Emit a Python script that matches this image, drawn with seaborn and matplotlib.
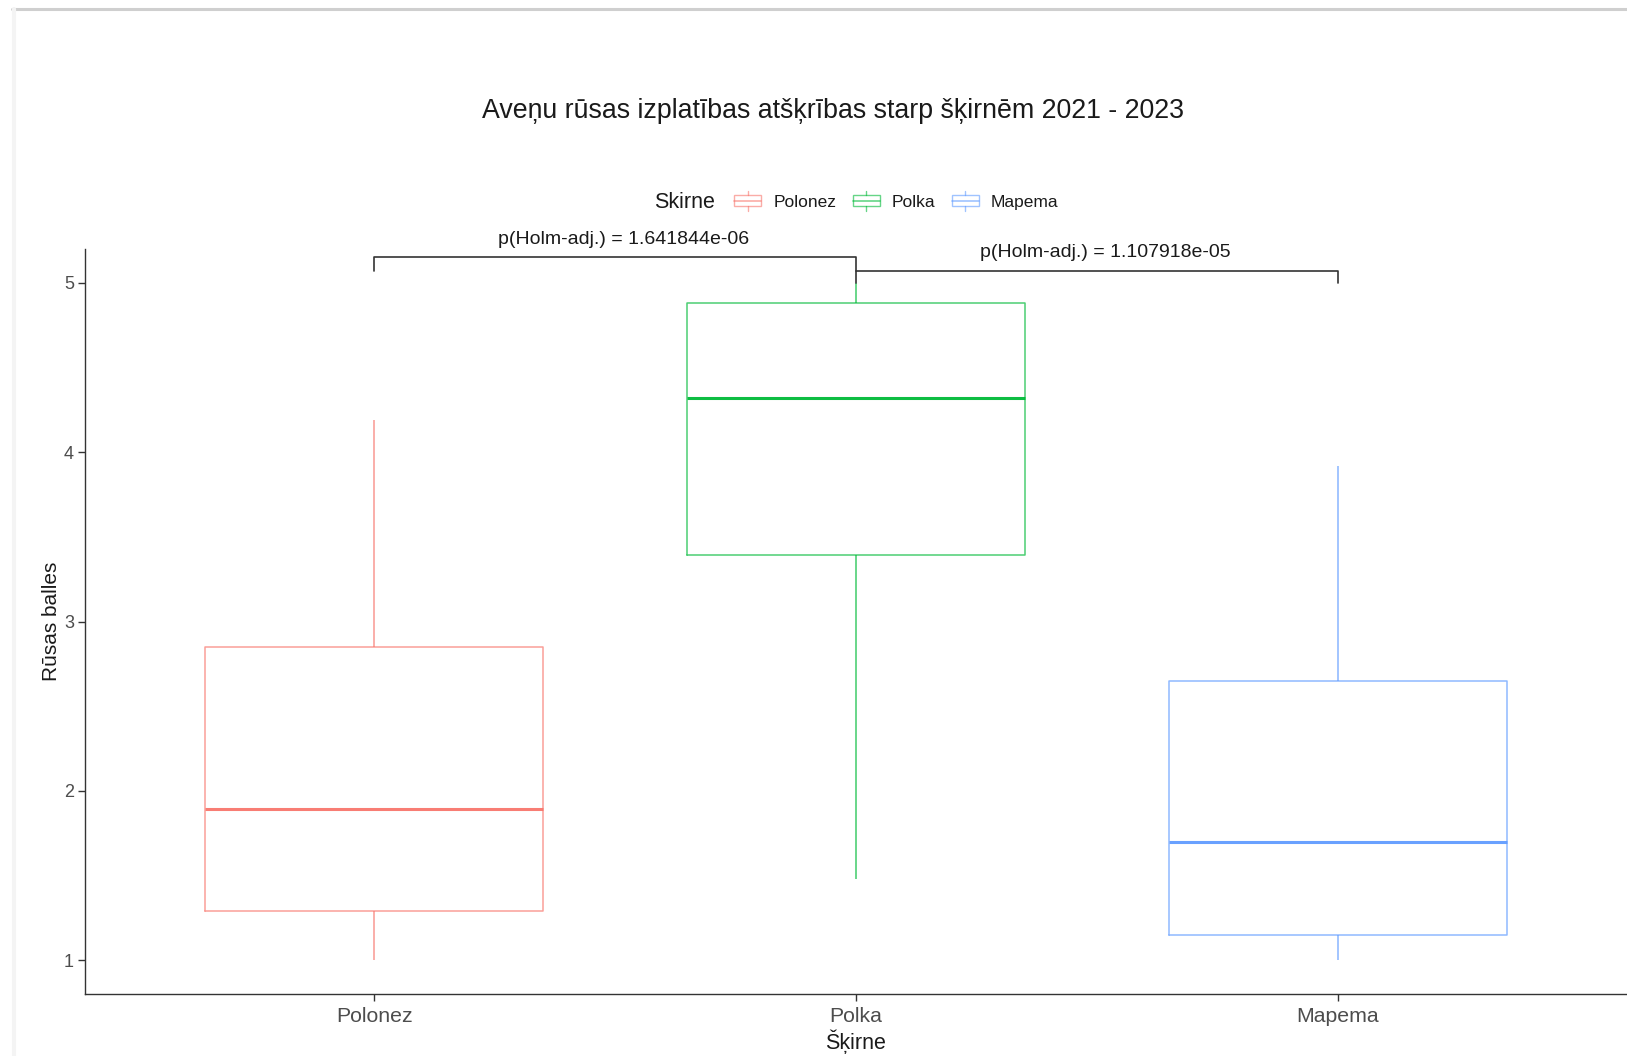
import numpy as np
import pandas as pd
import matplotlib
matplotlib.use("Agg")
import matplotlib.pyplot as plt
from matplotlib.patches import Patch, Rectangle
from matplotlib.lines import Line2D
from matplotlib.legend_handler import HandlerBase
import seaborn as sns

# Five-number summaries of rust scores per raspberry variety
varieties = ["Polonez", "Polka", "Mapema"]
whisker_low = [1.00, 1.48, 1.00]
q1 = [1.29, 3.39, 1.15]
median = [1.89, 4.32, 1.70]
q3 = [2.85, 4.88, 2.65]
whisker_high = [4.19, 5.00, 3.92]

# Pairwise comparisons (Holm-adjusted p-values)
comparisons = [("Polonez", "Polka"), ("Polka", "Mapema")]
p_labels = ["p(Holm-adj.) = 1.641844e-06", "p(Holm-adj.) = 1.107918e-05"]
bracket_y = [5.153, 5.073]
tip_length = [0.08, 0.073]

colors = ["#F8766D", "#00BA38", "#619CFF"]
palette = dict(zip(varieties, colors))

rows = []
for name, lo, a, m, b, hi in zip(varieties, whisker_low, q1, median, q3, whisker_high):
    for v in (lo, a, m, b, hi):
        rows.append({"Skirne": name, "score": v})
df = pd.DataFrame(rows)

sns.set_theme(style="ticks")
plt.rcParams["font.family"] = ["Liberation Sans", "DejaVu Sans"]

W, H = 1627, 1056
fig = plt.figure(figsize=(W / 100, H / 100), dpi=100)
fig.patch.set_facecolor("white")
ax = fig.add_axes([85 / W, 1 - 994 / H, 1 - 85 / W, (994 - 249) / H])

sns.boxplot(
    data=df, x="Skirne", y="score", hue="Skirne",
    order=varieties, hue_order=varieties, palette=palette,
    fill=False, width=0.7, whis=(0, 100), showcaps=False,
    linewidth=1.1,
    boxprops=dict(alpha=0.7),
    whiskerprops=dict(alpha=0.75),
    medianprops=dict(linewidth=2.2, alpha=0.95),
    legend=False, ax=ax,
)

ax.set_xlim(-0.6, 2.6)
ax.set_ylim(0.8, 5.2)
ax.set_yticks([1, 2, 3, 4, 5])
sns.despine(ax=ax)
for side in ("left", "bottom"):
    ax.spines[side].set_color("#333333")
    ax.spines[side].set_linewidth(1.0)
ax.tick_params(axis="both", colors="#333333", length=5, width=1.0)
ax.tick_params(axis="x", labelsize=15.3, labelcolor="#4d4d4d", pad=4)
ax.tick_params(axis="y", labelsize=13, labelcolor="#4d4d4d", pad=3)
ax.set_xlabel("Šķirne", fontsize=15.5, color="#1a1a1a", labelpad=3)
ax.set_ylabel("Rūsas balles", fontsize=15, color="#1a1a1a", labelpad=2)

# Significance brackets with p-value labels
pos = {n: i for i, n in enumerate(varieties)}
for (g1, g2), lab, yb, tl in zip(comparisons, p_labels, bracket_y, tip_length):
    x1, x2 = pos[g1], pos[g2]
    ax.plot([x1, x1, x2, x2], [yb - tl, yb, yb, yb - tl],
            color="#333333", lw=1.2, clip_on=False, zorder=5)
    ax.text((x1 + x2) / 2 + 0.018, yb + 0.105, lab, ha="center", va="center",
            fontsize=14, color="#1a1a1a", clip_on=False)

# Title
fig.text(833 / W, 1 - 111 / H,
         "Aveņu rūsas izplatības atšķrības starp šķirnēm 2021 - 2023",
         ha="center", va="center", fontsize=19.3, color="#1a1a1a")


class BoxKeyHandler(HandlerBase):
    def create_artists(self, legend, orig_handle, xdescent, ydescent,
                       width, height, fontsize, trans):
        c = orig_handle.get_edgecolor()
        x0, y0 = -xdescent, -ydescent
        rect = Rectangle((x0, y0 + 0.1 * height), width, 0.8 * height,
                         facecolor="white", edgecolor=c, lw=1.0, transform=trans)
        med = Line2D([x0, x0 + width], [y0 + 0.5 * height] * 2,
                     color=c, lw=1.2, transform=trans)
        wt = Line2D([x0 + width / 2] * 2, [y0 + 0.9 * height, y0 + 1.25 * height],
                    color=c, lw=1.0, transform=trans)
        wb = Line2D([x0 + width / 2] * 2, [y0 + 0.1 * height, y0 - 0.25 * height],
                    color=c, lw=1.0, transform=trans)
        return [rect, med, wt, wb]


key_colors = [(*matplotlib.colors.to_rgb(c), 0.6) for c in colors]
handles = [Patch(facecolor="none", edgecolor=c, label=n) for n, c in zip(varieties, key_colors)]
fig.text(654 / W, 1 - 202 / H, "Skirne", ha="left", va="center",
         fontsize=15.5, color="#1a1a1a")
fig.legend(handles=handles, labels=varieties, handler_map={Patch: BoxKeyHandler()},
           loc="center left", bbox_to_anchor=(722 / W, 1 - 202 / H),
           ncol=3, frameon=False, fontsize=12.5, handlelength=1.55,
           handleheight=0.85, handletextpad=0.7, columnspacing=0.95,
           labelcolor="#1a1a1a", borderpad=0.2)

# Screenshot frame lines
fig.add_artist(Line2D([12 / W, 1], [1 - 8.5 / H] * 2, transform=fig.transFigure,
                      color="#cfcfcf", lw=2.2))
fig.add_artist(Line2D([14 / W] * 2, [0, 1 - 8.5 / H], transform=fig.transFigure,
                      color="#f4f4f4", lw=3))

fig.savefig("out.png", dpi=100, facecolor="white")
